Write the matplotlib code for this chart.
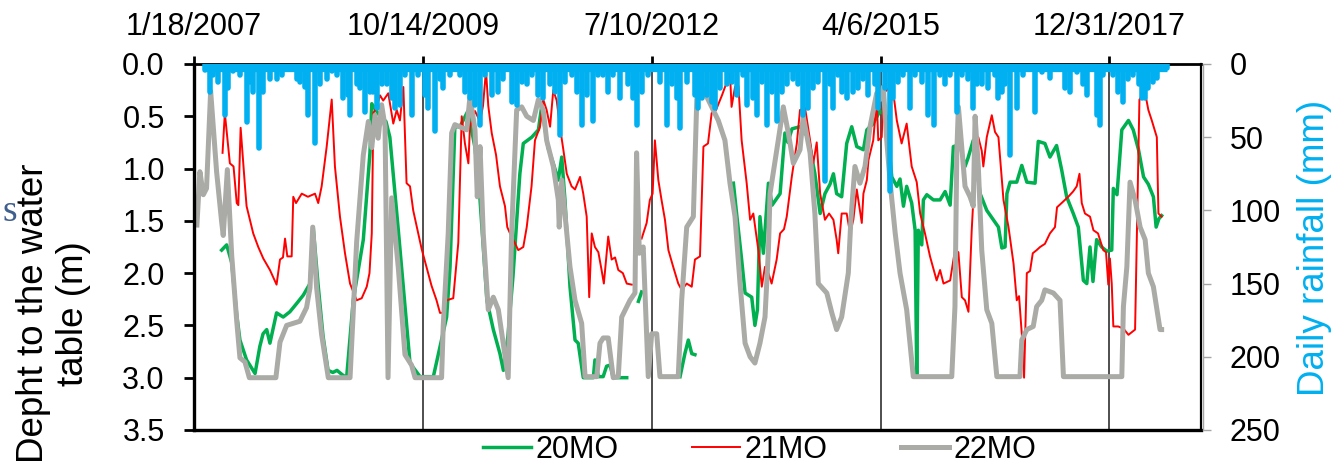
import numpy as np
import pandas as pd
import matplotlib
matplotlib.use('Agg')
import matplotlib.pyplot as plt

plt.rcParams['font.family'] = ['Liberation Sans', 'DejaVu Sans']

nan = np.nan

# days counted from 1/18/2007 (first tick of the date axis)
start = pd.Timestamp('2007-01-18')
tick_days = [0, 1000, 2000, 3000, 4000]

# 20MO depth to water table (m)
days20 = [121, 143, 165, 187, 201, 230, 267, 288, 302, 318,
          332, 361, 390, 419, 449, 478, 507, 521, 542, 564,
          586, 607, 625, 647, 667, 696, 740, 769, 777, 813,
          839, 856, 893, 944, 988, 1046, 1104, 1119, 1140, 1162,
          1197, 1228, 1250, 1280, 1308, 1337, 1352, 1372, 1394, 1424,
          1439, 1476, 1505, 1519, 1547, 1570, 1592, 1607, 1621, 1643,
          1665, 1679, 1701, 1745, 1752, 1767, 1788, 1803, 1818, 1832,
          1891, 1900, 1942, 1956, 1960, 2124, 2145, 2160, 2175, 2189,
          2200, 2357, 2371, 2393, 2408, 2437, 2451, 2462, 2473, 2488,
          2510, 2526, 2561, 2582, 2595, 2613, 2648, 2683, 2713, 2736,
          2757, 2779, 2794, 2808, 2830, 2852, 2874, 2896, 2925, 2940,
          2968, 2997, 3024, 3049, 3071, 3085, 3100, 3114, 3136, 3151,
          3158, 3165, 3180, 3187, 3202, 3231, 3260, 3282, 3304, 3318,
          3347, 3369, 3382, 3405, 3420, 3435, 3464, 3493, 3515, 3530,
          3544, 3552, 3566, 3595, 3617, 3639, 3675, 3689, 3718, 3740,
          3769, 3791, 3813, 3842, 3864, 3886, 3901, 3915, 3928, 3944,
          3966, 3988, 4010, 4017, 4033, 4054, 4083, 4104, 4127, 4149,
          4170, 4192, 4204, 4216, 4228]
depth20 = [1.78, 1.73, 1.90, 2.40, 2.64, 2.83, 2.96, 2.70, 2.58, 2.54,
           2.67, 2.38, 2.42, 2.37, 2.29, 2.21, 2.10, 1.56, 2.10, 2.60,
           2.93, 2.95, 2.93, 2.97, 3.00, 2.26, 1.68, 0.85, 0.38, 0.50,
           0.55, 0.70, 1.59, 2.86, 2.99, 2.99, 2.42, 1.94, 0.60, 0.60,
           0.45, 0.80, 1.30, 2.26, 2.54, 2.77, 2.93, 2.60, 2.03, 1.05,
           0.76, 0.70, 0.63, 0.41, 0.80, 0.95, 1.11, 0.89, 1.30, 2.13,
           2.64, 2.67, 3.00, 3.00, 2.83, 2.99, 2.99, 2.89, 2.88, 3.00,
           3.00, nan, 2.27, 2.18, nan, 2.99, 2.77, 2.64, 2.77, 2.78,
           nan, 1.14, 1.43, 1.87, 2.19, 2.23, 2.50, 2.35, 1.46, 1.81,
           1.14, 1.35, 1.24, 0.66, 0.75, 0.62, 0.60, 0.70, 1.05, 1.43,
           1.24, 1.15, 1.05, 1.24, 1.27, 0.76, 0.60, 0.79, 0.82, 0.63,
           0.57, 0.45, 0.50, 1.08, 1.17, 1.10, 1.36, 1.17, 1.33, 1.59,
           2.99, 1.59, 1.73, 1.30, 1.25, 1.30, 1.30, 1.22, 1.35, 0.79,
           0.77, 0.98, 0.90, 0.73, 0.98, 1.24, 1.40, 1.49, 1.56, 1.76,
           1.75, 1.24, 1.13, 1.13, 0.97, 1.13, 1.14, 0.74, 0.76, 0.89,
           0.78, 1.01, 1.27, 1.43, 1.56, 2.07, 2.10, 1.75, 2.08, 1.68,
           1.75, 1.79, 1.78, 1.19, 1.25, 0.63, 0.54, 0.63, 0.82, 1.08,
           1.15, 1.27, 1.56, 1.48, 1.45]

# 21MO
days21 = [125, 135, 157, 173, 187, 194, 204, 223, 230, 259,
          281, 303, 332, 361, 376, 389, 398, 408, 427, 434,
          446, 471, 498, 529, 543, 558, 580, 602, 616, 638,
          660, 682, 711, 733, 755, 767, 777, 784, 798, 813,
          827, 849, 871, 886, 900, 915, 929, 944, 958, 995,
          1016, 1038, 1060, 1075, 1089, 1104, 1133, 1155, 1170, 1184,
          1199, 1206, 1228, 1250, 1263, 1276, 1286, 1301, 1320, 1337,
          1359, 1369, 1381, 1395, 1417, 1439, 1454, 1475, 1490, 1512,
          1526, 1541, 1556, 1570, 1585, 1599, 1614, 1629, 1650, 1665,
          1687, 1701, 1716, 1727, 1738, 1752, 1767, 1781, 1791, 1810,
          1825, 1840, 1854, 1874, 1891, 1913, 1930, 1956, 1978, 1992,
          2004, 2014, 2029, 2043, 2058, 2073, 2094, 2116, 2131, 2153,
          2175, 2189, 2211, 2226, 2246, 2262, 2281, 2307, 2342, 2349,
          2364, 2379, 2393, 2415, 2430, 2444, 2466, 2481, 2495, 2510,
          2524, 2546, 2561, 2578, 2590, 2612, 2634, 2648, 2670, 2692,
          2706, 2721, 2736, 2757, 2775, 2794, 2808, 2815, 2830, 2852,
          2867, 2881, 2896, 2918, 2925, 2940, 2947, 2968, 2983, 2990,
          3005, 3012, 3027, 3042, 3056, 3071, 3092, 3114, 3136, 3158,
          3173, 3194, 3216, 3245, 3260, 3275, 3304, 3325, 3340, 3355,
          3369, 3384, 3398, 3413, 3427, 3442, 3449, 3464, 3486, 3500,
          3515, 3537, 3559, 3581, 3595, 3605, 3617, 3627, 3639, 3653,
          3665, 3682, 3697, 3718, 3740, 3762, 3771, 3791, 3820, 3841,
          3857, 3869, 3879, 3893, 3915, 3930, 3950, 3973, 3985, 3995,
          4002, 4010, 4017, 4038, 4061, 4083, 4112, 4121, 4131, 4141,
          4156, 4170, 4185, 4207, 4214, 4228]
depth21 = [0.85, 0.47, 0.95, 0.98, 1.33, 1.35, 0.61, 1.17, 1.36, 1.62,
           1.75, 1.86, 1.97, 2.11, 1.87, 1.85, 1.67, 1.84, 1.84, 1.27,
           1.33, 1.24, 1.27, 1.24, 1.33, 1.17, 0.79, 0.34, 0.98, 1.46,
           1.81, 2.10, 2.26, 2.24, 2.13, 2.00, 1.62, 0.47, 0.41, 0.30,
           0.35, 0.28, 0.57, 0.44, 0.54, 0.22, 1.14, 1.17, 1.40, 1.77,
           1.94, 2.12, 2.26, 2.38, 2.38, 2.26, 2.24, 1.71, 0.50, 0.76,
           0.95, 0.60, 0.45, 0.55, 0.40, 0.06, 0.40, 0.66, 0.87, 1.17,
           1.36, 1.56, 1.62, 1.68, 1.78, 1.75, 1.56, 1.17, 0.73, 0.60,
           0.34, 0.44, 0.60, 0.25, 0.35, 0.60, 0.82, 1.05, 1.17, 1.20,
           1.08, 1.24, 1.46, 2.23, 1.62, 1.75, 1.80, 1.97, 2.10, 1.65,
           1.87, 1.85, 1.97, 2.00, 2.10, 2.11, nan, 1.67, 1.52, 1.30,
           1.24, 0.73, 1.11, 1.30, 1.49, 1.78, 1.94, 2.10, 2.16, 2.10,
           2.13, 1.87, 1.84, 0.79, 0.76, 0.47, 0.44, 0.30, 0.09, 0.41,
           0.22, 0.21, 0.73, 1.14, 1.49, 1.43, 1.78, 2.13, 1.94, 2.00,
           2.10, 1.87, 1.62, 1.58, 1.46, 1.08, 0.76, 0.44, 0.42, 0.73,
           0.95, 0.75, 1.24, 1.49, 1.43, 1.49, 1.68, 1.81, 1.43, 1.43,
           1.62, 1.49, 1.20, 1.52, 1.24, 1.11, 0.92, 0.73, 0.34, 0.73,
           0.70, 0.28, 0.25, 0.22, 0.28, 0.54, 0.76, 0.57, 0.98, 1.13,
           1.43, 1.62, 1.84, 2.07, 1.97, 2.10, 2.07, 1.78, 1.80, 2.23,
           2.26, 2.37, 1.60, 0.98, 0.70, 0.83, 0.98, 0.70, 0.49, 0.65,
           0.70, 1.30, 1.56, 1.91, 2.26, 2.22, 2.58, 3.00, 2.00, 1.98,
           1.81, 1.78, 1.75, 1.72, 1.62, 1.56, 1.37, 1.33, 1.27, 1.22,
           1.17, 1.05, 1.33, 1.43, 1.46, 1.59, 1.62, 1.78, 1.80, 2.11,
           1.86, 2.10, 2.51, 2.51, 2.53, 2.59, 2.54, 1.50, 0.34, 0.31,
           0.28, 0.44, 0.54, 0.70, 1.43, 1.46]

# 22MO
days22 = [13, 26, 41, 55, 73, 99, 121, 128, 146, 165,
          187, 201, 223, 242, 358, 376, 405, 463, 492, 507,
          519, 536, 558, 587, 682, 711, 740, 762, 777, 791,
          805, 820, 835, 848, 864, 893, 922, 951, 966, 1082,
          1089, 1111, 1126, 1140, 1192, 1206, 1228, 1238, 1250, 1264,
          1286, 1308, 1330, 1373, 1388, 1410, 1432, 1454, 1483, 1505,
          1526, 1541, 1570, 1592, 1596, 1607, 1621, 1643, 1665, 1694,
          1709, 1760, 1774, 1788, 1810, 1832, 1854, 1869, 1905, 1927,
          1934, 1946, 1963, 1985, 2000, 2022, 2036, 2116, 2131, 2153,
          2182, 2197, 2211, 2269, 2291, 2320, 2342, 2364, 2386, 2408,
          2430, 2451, 2473, 2495, 2510, 2517, 2553, 2575, 2597, 2619,
          2648, 2662, 2692, 2713, 2728, 2765, 2787, 2808, 2830, 2859,
          2870, 2888, 2910, 2932, 2954, 2983, 2997, 3012, 3027, 3042,
          3064, 3085, 3114, 3143, 3311, 3325, 3333, 3340, 3355, 3369,
          3391, 3405, 3413, 3427, 3442, 3464, 3486, 3508, 3609, 3617,
          3639, 3667, 3682, 3704, 3718, 3755, 3784, 3799, 4054, 4061,
          4076, 4090, 4112, 4134, 4156, 4170, 4192, 4221, 4228]
depth22 = [1.54, 1.03, 1.25, 1.19, 0.26, 1.03, 1.51, 1.64, 1.01, 1.83,
           2.46, 2.81, 2.85, 3.00, 3.00, 2.66, 2.50, 2.46, 2.33, 2.14,
           1.56, 2.14, 2.59, 3.00, 3.00, 1.70, 0.87, 0.55, 0.80, 0.49,
           0.71, 0.39, 0.60, 3.00, 1.28, 1.95, 2.78, 2.88, 3.00, 3.00,
           2.51, 1.62, 0.66, 0.58, 0.63, 0.31, 0.63, 1.27, 0.79, 1.62,
           2.35, 2.23, 2.35, 3.00, 1.62, 0.44, 0.41, 0.50, 0.54, 0.34,
           0.44, 0.73, 0.98, 1.30, 1.56, 1.11, 1.43, 1.94, 2.26, 2.48,
           2.99, 2.99, 2.67, 2.62, 2.62, 3.00, 2.99, 2.42, 2.26, 2.19,
           0.85, 1.81, 1.75, 2.99, 2.58, 2.58, 2.99, 2.99, 2.26, 1.56,
           1.46, 0.34, 0.18, 0.44, 0.54, 0.73, 1.14, 1.46, 2.10, 2.67,
           2.80, 2.86, 2.67, 2.42, 1.78, 1.24, 0.73, 0.41, 0.66, 0.95,
           0.82, 0.50, 0.85, 1.43, 2.10, 2.19, 2.38, 2.54, 2.42, 2.00,
           1.50, 0.98, 1.14, 0.98, 0.60, 0.28, 0.34, 0.22, 0.73, 1.14,
           1.62, 2.00, 2.35, 2.99, 2.99, 2.32, 0.85, 0.41, 0.80, 1.17,
           1.27, 1.36, 0.50, 0.98, 1.78, 2.35, 2.48, 2.99, 2.99, 2.64,
           2.54, 2.51, 2.32, 2.26, 2.16, 2.19, 2.26, 2.99, 2.99, 2.32,
           1.94, 1.13, 1.30, 1.56, 1.68, 2.00, 2.13, 2.54, 2.54]

# daily rainfall (mm), rainy days only
rain_day = [50, 70, 84, 106, 135, 150, 172, 201, 230, 245, 259, 285, 303, 332, 361, 383, 405,
            449, 463, 485, 500, 529, 551, 580, 602, 623, 653, 674, 682, 711, 725, 747, 769,
            784, 798, 820, 845, 864, 878, 900, 922, 951, 980, 1009, 1024, 1053, 1075, 1090,
            1119, 1133, 1162, 1184, 1206, 1228, 1250, 1272, 1301, 1330, 1352, 1388, 1410, 1432,
            1454, 1476, 1505, 1527, 1556, 1578, 1599, 1621, 1650, 1672, 1697, 1716, 1745, 1767,
            1789, 1811, 1832, 1862, 1898, 1920, 1934, 1956, 1985, 2015, 2036, 2066, 2087, 2109,
            2124, 2153, 2189, 2204, 2218, 2240, 2262, 2277, 2299, 2328, 2350, 2372, 2400, 2415,
            2444, 2459, 2481, 2503, 2524, 2546, 2568, 2590, 2619, 2641, 2663, 2685, 2706, 2728,
            2757, 2779, 2794, 2816, 2830, 2852, 2881, 2903, 2925, 2947, 2976, 2990, 3020, 3042,
            3056, 3078, 3100, 3129, 3151, 3180, 3209, 3235, 3260, 3282, 3304, 3333, 3355, 3384,
            3405, 3420, 3442, 3471, 3500, 3515, 3530, 3544, 3566, 3595, 3624, 3653, 3675, 3704,
            3741, 3777, 3806, 3828, 3857, 3886, 3901, 3930, 3945, 3959, 3974, 4017, 4039, 4061,
            4083, 4105, 4127, 4141, 4156, 4170, 4192, 4207, 4229, 4250]
rain_mm = [4, 19, 7.5, 12, 35, 16.6, 5, 7.5, 39.4, 12, 19, 57.6, 19, 10, 10, 7.5, 3,
           10, 12, 16, 35, 54, 14, 10, 5, 7.5, 23.5, 21, 35, 14, 16.6, 32.6, 18.9,
           18.9, 30, 14, 14, 23.5, 30, 28, 7.5, 35, 7.5, 21, 30, 46, 10, 16.6,
           7.5, 3, 7.5, 19, 23.5, 28, 42, 7.5, 21, 19, 10, 25.7, 28, 12,
           14, 7.5, 21, 23.5, 14, 19, 48.5, 12, 7.5, 19, 42, 21, 39, 7.5,
           7.5, 19, 7.5, 23.5, 14, 23.5, 42, 19, 7.5, 3, 12, 42, 14, 23.5,
           44, 12, 21, 30, 23.5, 21, 25.7, 30, 16.6, 14, 12, 21, 7.5, 28,
           23.5, 35, 12, 42, 19, 39, 19, 14, 10, 14, 35, 30, 16.6, 12,
           80, 14, 30, 7.5, 19, 23.5, 19, 16.6, 10, 21, 14, 30, 16.6, 87,
           23.5, 12, 7.5, 30, 7.5, 12, 35, 42, 7.5, 14, 7.5, 32.6, 7.5, 10,
           30, 14, 14, 16.6, 7.5, 23.5, 19, 14, 62, 30, 7.5, 3, 32.6, 5.3,
           9.8, 3, 16.6, 19, 5.3, 14, 21, 3, 35, 42, 7.5, 7.5, 19, 25.7,
           10, 7.5, 14, 23.5, 23.5, 16.6, 12, 9.8, 3, 3]


def to_dates(days):
    return start + pd.to_timedelta(np.asarray(days, dtype=float), unit='D')


fig = plt.figure(figsize=(13.44, 4.66), dpi=100)
ax = fig.add_axes([0.1443, 0.0773, 0.7493, 0.7854])

ax.plot(to_dates(days20), np.array(depth20, dtype=float), color='#00B050', lw=2.5, label='20MO')
ax.plot(to_dates(days21), np.array(depth21, dtype=float), color='#FF0000', lw=1.4, label='21MO')
ax.plot(to_dates(days22), np.array(depth22, dtype=float), color='#AAAAA6', lw=3.6, label='22MO')

ax.set_ylim(3.5, 0)
ax.set_yticks(np.arange(0, 3.51, 0.5))
ax.set_yticklabels(['%.1f' % v for v in np.arange(0, 3.51, 0.5)])

ticks = [start + pd.Timedelta(days=d) for d in tick_days]
ax.set_xlim(start, start + pd.Timedelta(days=4400))
ax.set_xticks(ticks)
ax.set_xticklabels([f'{t.month}/{t.day}/{t.year}' for t in ticks])
ax.xaxis.tick_top()
ax.grid(axis='x', color='#404040', lw=1.3)
ax.set_axisbelow(True)

ax.tick_params(axis='x', direction='out', length=6, width=2, pad=10, labelsize=22)
ax.tick_params(axis='y', direction='out', length=7, width=2, pad=14, labelsize=22)
ax.spines['left'].set_linewidth(2.4)
ax.spines['bottom'].set_linewidth(2.4)
ax.spines['top'].set_linewidth(2)
ax.spines['right'].set_linewidth(1.6)

# rainfall on the secondary axis
ax2 = ax.twinx()
rain_dates = to_dates(rain_day)
ax2.hlines(0, rain_dates[0], rain_dates[-1], color='#00B0F0', lw=11)
ax2.vlines(rain_dates, 0, rain_mm, color='#00B0F0', lw=4, capstyle='round')
ax2.set_ylim(250, 0)
ax2.set_yticks(np.arange(0, 251, 50))
ax2.tick_params(axis='y', direction='out', length=6, width=1, color='#A6A6A6',
                pad=13, labelsize=22)
for s in ['left', 'top', 'bottom']:
    ax2.spines[s].set_visible(False)
ax2.spines['right'].set_color('#A6A6A6')
ax2.spines['right'].set_linewidth(1)
ax2.spines['right'].set_position(('outward', 1.5))

fig.text(0.040, 0.328, 'Depht to the water\ntable (m)', rotation=90, ha='center', va='center',
         fontsize=26.5, linespacing=1.2, multialignment='center')
fig.text(0.978, 0.468, 'Daily rainfall (mm)', rotation=90, ha='center', va='center',
         fontsize=26.5, color='#00B0F0')
fig.text(10 / 1344, 0.545, 's', ha='center', va='center', fontsize=27,
         family='Liberation Serif', color='#3F5F8F')

handles, labels = ax.get_legend_handles_labels()
fig.legend(handles, labels, loc='center', bbox_to_anchor=(0.565, 0.034), ncol=3,
           frameon=False, fontsize=22, handlelength=1.57, handletextpad=0.15,
           columnspacing=2.4, borderpad=0, borderaxespad=0)

fig.savefig('out.png', dpi=100)
